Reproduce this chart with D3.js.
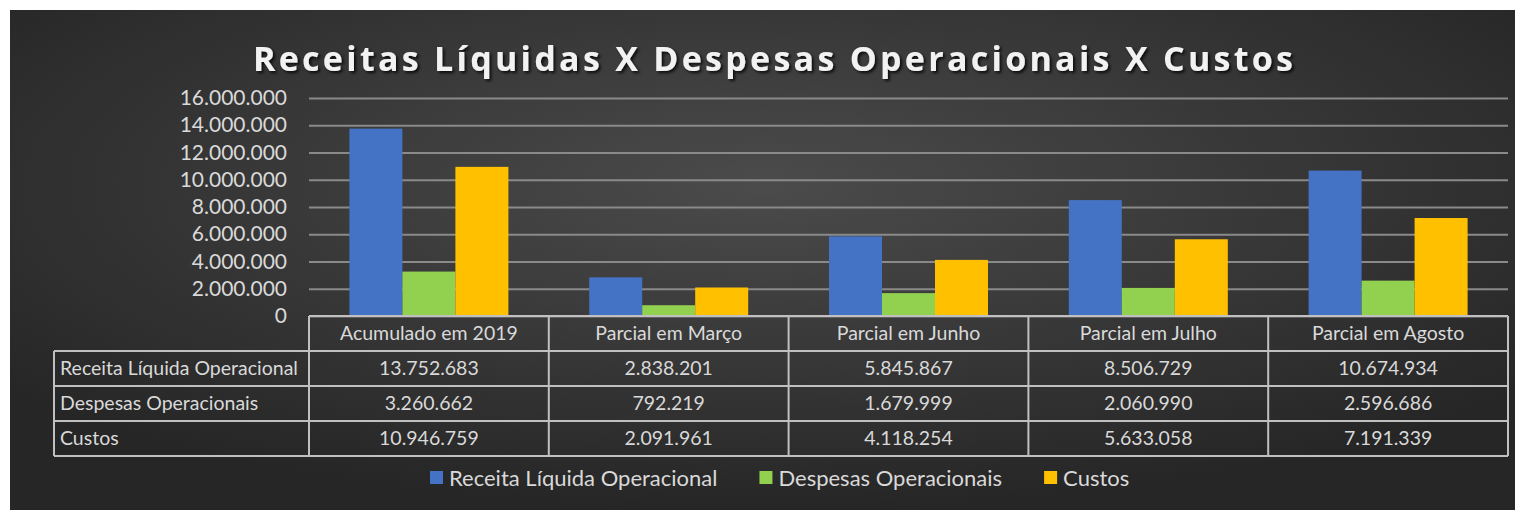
<!DOCTYPE html>
<html>
<head>
<meta charset="utf-8">
<script src="https://cdn.jsdelivr.net/npm/d3@7"></script>
<style>
  body { margin: 0; background: #ffffff; }
  svg { display: block; }
</style>
</head>
<body>
<script>
// chart data
var categories = ["Acumulado em 2019", "Parcial em Março", "Parcial em Junho", "Parcial em Julho", "Parcial em Agosto"];
var seriesNames = ["Receita Líquida Operacional", "Despesas Operacionais", "Custos"];
var receita = [13752683, 2838201, 5845867, 8506729, 10674934];
var despesas = [3260662, 792219, 1679999, 2060990, 2596686];
var custos = [10946759, 2091961, 4118254, 5633058, 7191339];
var yTicks = [0, 2000000, 4000000, 6000000, 8000000, 10000000, 12000000, 14000000, 16000000];
var colors = ["#4472c4", "#92d050", "#ffc000"];

var seriesValues = [receita, despesas, custos];

//canvas size
var width = 1515,
    height = 510;

//plot frame
var plotLeft = 309,
    plotRight = 1508,
    plotTop = 98,
    plotBottom = 316;

var rowH = 35,
    tableLeft = 54;

// brazilian number format
var br = d3.formatLocale({decimal: ",", thousands: ".", grouping: [3], currency: ["R$", ""]});
var fmt = br.format(",d");

var svg = d3.select("body")
    .append("svg")
    .attr("width", width)
    .attr("height", height);

var defs = svg.append("defs");

var grad = defs.append("radialGradient")
    .attr("id", "bg")
    .attr("cx", "50%").attr("cy", "35%")
    .attr("r", "65%");
grad.append("stop").attr("offset", "0%").attr("stop-color", "#4b4b4b");
grad.append("stop").attr("offset", "100%").attr("stop-color", "#262626");

var shadow = defs.append("filter")
    .attr("id", "shadow")
    .attr("x", "-5%").attr("y", "-30%")
    .attr("width", "110%").attr("height", "160%");
shadow.append("feDropShadow")
    .attr("dx", 2).attr("dy", 2)
    .attr("stdDeviation", 1.5)
    .attr("flood-color", "#000")
    .attr("flood-opacity", 0.8);

// background
svg.append("rect")
    .attr("x", 10).attr("y", 10)
    .attr("width", width - 10).attr("height", height - 10)
    .attr("fill", "url(#bg)");

// title
svg.append("text")
    .attr("x", 253)
    .attr("y", 71)
    .attr("textLength", 1040)
    .attr("lengthAdjust", "spacing")
    .attr("font-family", "'Open Sans', sans-serif")
    .attr("font-weight", "bold")
    .attr("font-size", 34)
    .attr("fill", "#f2f2f2")
    .attr("filter", "url(#shadow)")
    .text("Receitas Líquidas X Despesas Operacionais X Custos");

// scales
var x0 = d3.scaleBand()
    .domain(categories)
    .range([plotLeft, plotRight])
    .paddingInner(0);

var groupW = 159;
var x1 = d3.scaleBand()
    .domain(seriesNames)
    .range([0, groupW]);

var y = d3.scaleLinear()
    .domain([0, 16000000])
    .range([plotBottom, plotTop]);

// y axis with gridlines
var yAxis = svg.append("g")
    .attr("class", "y-axis")
    .attr("transform", "translate(" + plotLeft + ",0)")
    .call(d3.axisLeft(y)
        .tickValues(yTicks)
        .tickFormat(function(d){ return d === 0 ? "0" : fmt(d); })
        .tickSizeInner(-(plotRight - plotLeft))
        .tickSizeOuter(0)
        .tickPadding(22));

yAxis.select(".domain").remove();
yAxis.selectAll(".tick line")
    .attr("stroke", "#8a8a8a")
    .attr("stroke-width", 2);
yAxis.selectAll(".tick text")
    .attr("font-family", "Lato, sans-serif")
    .attr("font-size", 21)
    .attr("fill", "#d9d9d9");

// bars
var groups = svg.selectAll(".cat")
    .data(categories)
    .enter()
    .append("g")
    .attr("class", "cat")
    .attr("transform", function(d){
        return "translate(" + (x0(d) + (x0.bandwidth() - groupW) / 2) + ",0)";
    });

groups.selectAll("rect")
    .data(function(d, i){
        return seriesNames.map(function(s, k){ return {s: s, k: k, v: seriesValues[k][i]}; });
    })
    .enter()
    .append("rect")
    .attr("x", function(d){ return x1(d.s); })
    .attr("y", function(d){ return y(d.v); })
    .attr("width", x1.bandwidth())
    .attr("height", function(d){ return y(0) - y(d.v); })
    .attr("fill", function(d){ return colors[d.k]; });

// data table
var table = svg.append("g").attr("class", "table");
var lineColor = "#c0c0c0";
var tableBottom = plotBottom + rowH * 4;

// horizontal lines
table.append("line")
    .attr("x1", plotLeft).attr("x2", plotRight)
    .attr("y1", plotBottom).attr("y2", plotBottom);
[1, 2, 3, 4].forEach(function(r){
    table.append("line")
        .attr("x1", tableLeft).attr("x2", plotRight)
        .attr("y1", plotBottom + rowH * r).attr("y2", plotBottom + rowH * r);
});
// vertical lines
table.append("line")
    .attr("x1", tableLeft).attr("x2", tableLeft)
    .attr("y1", plotBottom + rowH).attr("y2", tableBottom);
categories.forEach(function(c){
    table.append("line")
        .attr("x1", x0(c)).attr("x2", x0(c))
        .attr("y1", plotBottom).attr("y2", tableBottom);
});
table.append("line")
    .attr("x1", plotRight).attr("x2", plotRight)
    .attr("y1", plotBottom).attr("y2", tableBottom);

table.selectAll("line")
    .attr("stroke", lineColor)
    .attr("stroke-width", 2);

// header text
table.selectAll(".hdr")
    .data(categories)
    .enter()
    .append("text")
    .attr("class", "hdr")
    .attr("x", function(d){ return x0(d) + x0.bandwidth() / 2; })
    .attr("y", plotBottom + rowH / 2)
    .attr("dy", "0.35em")
    .attr("text-anchor", "middle")
    .text(function(d){ return d; });

// row labels
table.selectAll(".rowlab")
    .data(seriesNames)
    .enter()
    .append("text")
    .attr("class", "rowlab")
    .attr("x", tableLeft + 6)
    .attr("y", function(d, i){ return plotBottom + rowH * (i + 1) + rowH / 2; })
    .attr("dy", "0.35em")
    .text(function(d){ return d; });

// values
seriesValues.forEach(function(vals, k){
    table.selectAll(".val" + k)
        .data(vals)
        .enter()
        .append("text")
        .attr("class", "val" + k)
        .attr("x", function(d, i){ return x0(categories[i]) + x0.bandwidth() / 2; })
        .attr("y", plotBottom + rowH * (k + 1) + rowH / 2)
        .attr("dy", "0.35em")
        .attr("text-anchor", "middle")
        .text(function(d){ return fmt(d); });
});

table.selectAll("text")
    .attr("font-family", "Lato, sans-serif")
    .attr("font-size", 19.5)
    .attr("fill", "#d9d9d9");

// legend
var legend = svg.append("g").attr("class", "legend");
var lx = 430,
    ly = 478;
seriesNames.forEach(function(s, k){
    legend.append("rect")
        .attr("x", lx).attr("y", ly - 7)
        .attr("width", 13).attr("height", 13)
        .attr("fill", colors[k]);
    var t = legend.append("text")
        .attr("x", lx + 19)
        .attr("y", ly)
        .attr("dy", "0.35em")
        .attr("font-family", "Lato, sans-serif")
        .attr("font-size", 22)
        .attr("fill", "#d9d9d9")
        .text(s);
    lx = lx + 19 + t.node().getComputedTextLength() + 42;
});
</script>
</body>
</html>
